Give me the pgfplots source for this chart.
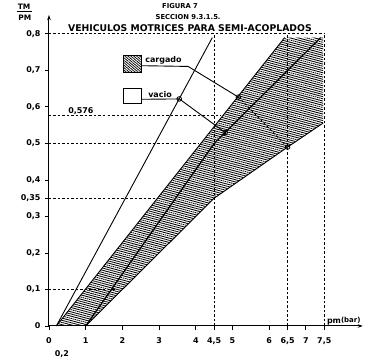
\documentclass[border=0pt]{standalone}
\usepackage{pgfplots}
\pgfplotsset{compat=1.18}
\usepackage{fontspec}
\setmainfont{DejaVu Sans}
\usetikzlibrary{patterns.meta, arrows.meta}
\begin{document}
\begin{tikzpicture}
\begin{axis}[
  x=36.7bp, y=365bp,
  xmin=0, xmax=8.55, ymin=0, ymax=0.852,
  axis lines=left,
  axis line style={line width=1bp, -{Stealth[length=5bp,width=3.5bp]}},
  clip=false,
  xtick={0,1,2,3,4,4.5,5,6,6.5,7,7.5},
  xticklabels={0,1,2,3,4,{4,5},5,6,{6,5},7,{7,5}},
  ytick={0,0.1,0.2,0.3,0.35,0.4,0.5,0.6,0.7,0.8},
  yticklabels={0,{0,1},{0,2},{0,3},{0,35},{0,4},{0,5},{0,6},{0,7},{0,8}},
  tick align=outside,
  major tick length=4bp,
  tick style={line width=0.9bp, black},
  ticklabel style={font=\bfseries\fontsize{8}{9}\selectfont},
  xticklabel style={yshift=-4bp},
  yticklabel style={xshift=-1bp},
  dsh/.style={black, line width=0.9bp, dash pattern=on 2.5bp off 2bp},
  ln/.style={black, line width=0.9bp},
]
% hatched band (cargado)
\addplot[draw=none, pattern={Lines[angle=-15,distance=2.1bp,line width=0.85bp]}]
  coordinates {(0.2,0) (6.42,0.79) (7.47,0.79) (7.47,0.556) (6.5,0.49) (4.5,0.35) (1,0)} --cycle;
% dashed reference lines
\addplot[dsh] coordinates {(0,0.8) (7.5,0.8)};
\addplot[dsh] coordinates {(0,0.576) (4.7,0.576)};
\addplot[dsh] coordinates {(0,0.5) (4.1,0.5)};
\addplot[dsh] coordinates {(0,0.35) (2.95,0.35)};
\addplot[dsh] coordinates {(0,0.1) (1.8,0.1)};
\addplot[dsh] coordinates {(4.5,0) (4.5,0.8)};
\addplot[dsh] coordinates {(6.5,0) (6.5,0.8)};
\addplot[dsh] coordinates {(7.5,0) (7.5,0.8)};
% boundaries
\addplot[ln] coordinates {(0.2,0) (6.42,0.79)};
\addplot[ln] coordinates {(1,0) (4.5,0.35) (6.5,0.49) (7.47,0.556)};
\addplot[black, line width=1.2bp] coordinates {(1,0) (4.5,0.5) (7.4,0.79)};
\addplot[ln] coordinates {(0.2,0) (4.45,0.79)};
% legend boxes
\addplot[draw=black, line width=0.8bp, pattern={Lines[angle=-40,distance=1.9bp,line width=0.75bp]}]
  coordinates {(2.02,0.696) (2.53,0.696) (2.53,0.742) (2.02,0.742)} --cycle;
\addplot[draw=black, fill=white, line width=0.8bp]
  coordinates {(2.02,0.611) (2.53,0.611) (2.53,0.652) (2.02,0.652)} --cycle;
% pointer lines
\addplot[ln] coordinates {(2.53,0.713) (3.79,0.711) (5.16,0.627)};
\addplot[dsh] coordinates {(5.16,0.627) (6.5,0.49)};
\addplot[ln] coordinates {(2.53,0.621) (3.55,0.622) (4.8,0.53)};
\addplot[only marks, mark=o, mark size=2.3bp, mark options={fill=white, line width=0.8bp, black}]
  coordinates {(5.16,0.627) (6.5,0.49) (3.55,0.622) (4.8,0.53)};
% texts
\node[anchor=base west, inner sep=0, font=\bfseries\fontsize{8}{9}\selectfont] at (axis cs:2.62,0.721) {cargado};
\node[anchor=base west, inner sep=0, font=\bfseries\fontsize{8}{9}\selectfont] at (axis cs:2.70,0.627) {vacio};
\node[anchor=base, inner sep=0, font=\bfseries\fontsize{8}{9}\selectfont] at (axis cs:0.87,0.582) {0,576};
\node[anchor=north, inner sep=0, font=\bfseries\fontsize{8}{9}\selectfont] at (axis cs:0.35,-0.068) {0,2};
\node[font=\bfseries\fontsize{6.8}{7}\selectfont, inner sep=0] at (axis cs:3.57,0.877) {FIGURA 7};
\node[font=\bfseries\fontsize{6.8}{7}\selectfont, inner sep=0] at (axis cs:3.79,0.847) {SECCION 9.3.1.5.};
\node[font=\bfseries\fontsize{9.3}{10}\selectfont, inner sep=0] at (axis cs:3.84,0.816) {VEHICULOS MOTRICES PARA SEMI-ACOPLADOS};
\node[anchor=base, inner sep=0, font=\bfseries\fontsize{7.5}{8}\selectfont] at (axis cs:-0.68,0.866) {\underline{\,TM\,}};
\node[anchor=base, inner sep=0, font=\bfseries\fontsize{7.5}{8}\selectfont] at (axis cs:-0.66,0.838) {PM};
\node[anchor=base west, inner sep=0, font=\bfseries\fontsize{8}{9}\selectfont] at (axis cs:7.57,0.006)
  {pm\raisebox{1.5bp}{\fontsize{7}{8}\selectfont(bar)}};
\coordinate (bl) at (axis cs:-1.335,-0.0877);
\coordinate (tr) at (axis cs:9.155,0.893);
\end{axis}
\path (bl) rectangle (tr);
\end{tikzpicture}
\end{document}
